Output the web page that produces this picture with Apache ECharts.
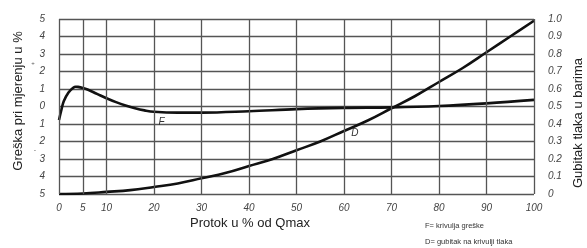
<!DOCTYPE html>
<html>
<head>
    <meta charset="utf-8">
    <script src="https://cdn.jsdelivr.net/npm/echarts@6/dist/echarts.min.js"></script>
    <style>body{margin:0;background:#fff}</style>
</head>
<body>
<div id="main" style="width:587px;height:248px"></div>
<script type="text/javascript">
    // podaci ocitani sa slike
    var xTicks = [0, 5, 10, 20, 30, 40, 50, 60, 70, 80, 90, 100];
    // F = krivulja greske (lijeva os, %)
    var fX = [0, 0.5, 1, 2, 3, 3.5, 4, 5, 6, 8, 10, 12, 14, 16, 18, 20, 25, 30, 40, 50, 60, 70, 80, 90, 100];
    var fY = [-0.77, -0.2, 0.3, 0.8, 1.07, 1.13, 1.12, 1.06, 0.97, 0.72, 0.47, 0.25, 0.06, -0.1, -0.22, -0.3, -0.35, -0.35, -0.27, -0.15, -0.08, -0.05, 0.03, 0.18, 0.38];
    // D = gubitak tlaka (desna os, bar)
    var dX = [0, 5, 10, 15, 20, 25, 30, 35, 40, 45, 50, 55, 60, 65, 70, 75, 80, 85, 90, 95, 100];
    var dY = [0, 0.003, 0.012, 0.022, 0.04, 0.06, 0.09, 0.12, 0.16, 0.2, 0.25, 0.3, 0.36, 0.42, 0.49, 0.56, 0.64, 0.72, 0.81, 0.9, 0.99];

    var pair = function (xs, ys) {
        return xs.map(function (x, i) { return [x, ys[i]]; });
    };
    var tickFont = {color: '#444', fontSize: 10, fontStyle: 'italic', fontFamily: 'Liberation Sans'};
    var curveLabel = function (txt) {
        return {
            symbol: 'circle', symbolSize: 1, itemStyle: {color: 'rgba(0,0,0,0)'},
            label: {show: true, position: 'inside', formatter: txt, color: '#333', fontSize: 10, fontStyle: 'italic', fontFamily: 'Liberation Sans'}
        };
    };

    var myChart = echarts.init(document.getElementById('main'));
    var mpF = curveLabel('F');
    mpF.data = [{coord: [21.6, -0.87]}];
    var mpD = curveLabel('D');
    mpD.data = [{coord: [62.3, 0.35]}];

    var option = {
        animation: false,
        grid: {left: 59, right: 53, top: 19, bottom: 54},
        xAxis: {
            type: 'value', min: 0, max: 100, interval: 5,
            axisLine: {show: false}, axisTick: {show: false}, splitLine: {show: false},
            axisLabel: Object.assign({customValues: xTicks, margin: 9}, tickFont)
        },
        yAxis: [
            {
                type: 'value', min: -5, max: 5, interval: 1,
                axisLine: {show: false}, axisTick: {show: false},
                splitLine: {lineStyle: {color: '#555', width: 1.3}},
                axisLabel: Object.assign({margin: 14, formatter: function (v) { return Math.abs(v); }}, tickFont)
            },
            {
                type: 'value', min: 0, max: 1, interval: 0.1,
                axisLine: {show: false}, axisTick: {show: false}, splitLine: {show: false},
                axisLabel: Object.assign({margin: 14, align: 'left', formatter: function (v) {
                    return v === 0 ? '0' : v.toFixed(1);
                }}, tickFont)
            }
        ],
        graphic: [
            {type: 'text', x: 18, y: 101, rotation: Math.PI / 2,
                style: {text: 'Greška pri mjerenju u %', fill: '#222', font: '13px Liberation Sans', align: 'center', verticalAlign: 'middle'}},
            {type: 'text', x: 578, y: 123, rotation: Math.PI / 2,
                style: {text: 'Gubitak tlaka u barima', fill: '#222', font: '13px Liberation Sans', align: 'center', verticalAlign: 'middle'}},
            {type: 'text', x: 250, y: 223,
                style: {text: 'Protok u % od Qmax', fill: '#222', font: '13px Liberation Sans', align: 'center', verticalAlign: 'middle'}},
            {type: 'text', x: 425, y: 226,
                style: {text: 'F= krivulja greške', fill: '#333', font: '7.5px Liberation Sans', verticalAlign: 'middle'}},
            {type: 'text', x: 425, y: 242,
                style: {text: 'D= gubitak na krivulji tlaka', fill: '#333', font: '7.5px Liberation Sans', verticalAlign: 'middle'}},
            {type: 'text', x: 33, y: 63,
                style: {text: '+', fill: '#555', font: '6px Liberation Sans', align: 'center', verticalAlign: 'middle'}},
            {type: 'text', x: 35, y: 150,
                style: {text: '-', fill: '#555', font: '7px Liberation Sans', align: 'center', verticalAlign: 'middle'}}
        ],
        series: [
            {
                name: 'F', type: 'line', smooth: 0.4, symbol: 'none', yAxisIndex: 0,
                lineStyle: {color: '#111', width: 2.6},
                data: pair(fX, fY),
                markLine: {
                    silent: true, symbol: 'none', label: {show: false},
                    lineStyle: {color: '#555', width: 1.3, type: 'solid'},
                    data: xTicks.map(function (x) { return {xAxis: x}; })
                },
                markPoint: mpF
            },
            {
                name: 'D', type: 'line', smooth: 0.4, symbol: 'none', yAxisIndex: 1,
                lineStyle: {color: '#111', width: 2.6},
                data: pair(dX, dY),
                markPoint: mpD
            }
        ]
    };
    myChart.setOption(option);
</script>
</body>
</html>
